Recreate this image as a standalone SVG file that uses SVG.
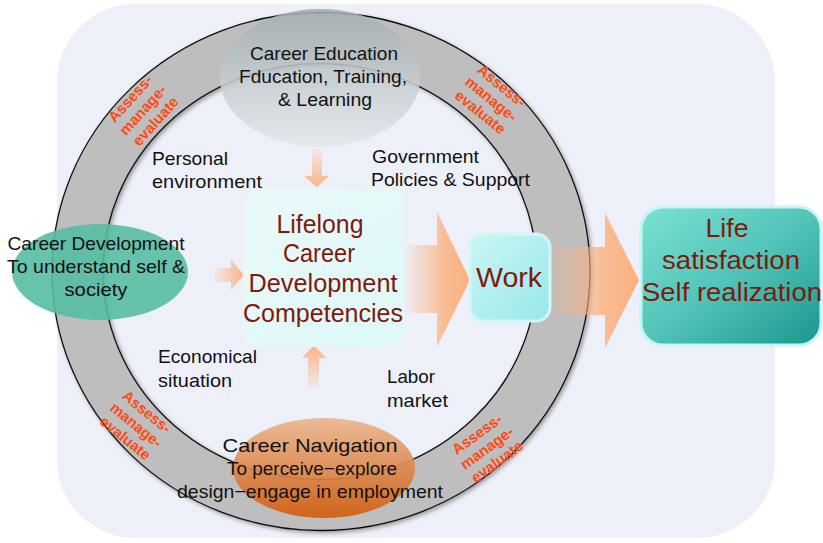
<svg xmlns="http://www.w3.org/2000/svg" width="823" height="543" viewBox="0 0 823 543">
<defs>
<style>
text{font-family:"Liberation Sans",Arial,sans-serif;}
.lbl{font-size:19px;fill:#111;}
.node{font-size:19px;fill:#111;text-anchor:middle;}
.big{fill:#7E1A0C;text-anchor:middle;}
.ame{font-size:15px;font-weight:bold;fill:#FF4A14;text-anchor:middle;}
</style>
<linearGradient id="gEdu" x1="0" y1="0" x2="0" y2="1">
<stop offset="0" stop-color="#A3ADB0"/>
<stop offset="1" stop-color="#E4E8EB"/>
</linearGradient>
<linearGradient id="gNav" x1="0" y1="0" x2="0" y2="1">
<stop offset="0" stop-color="#EAB68F"/>
<stop offset="1" stop-color="#D25C0C"/>
</linearGradient>
<linearGradient id="gBox" x1="0" y1="0" x2="1" y2="1">
<stop offset="0" stop-color="#EAF9F9"/>
<stop offset="1" stop-color="#DDF8F8"/>
</linearGradient>
<linearGradient id="gWork" x1="0" y1="0" x2="1" y2="1">
<stop offset="0" stop-color="#CBF5F5"/>
<stop offset="1" stop-color="#98E8E8"/>
</linearGradient>
<linearGradient id="gLife" x1="0" y1="0" x2="1" y2="1">
<stop offset="0" stop-color="#7AE2D4"/>
<stop offset="0.5" stop-color="#52C4B8"/>
<stop offset="1" stop-color="#1A968E"/>
</linearGradient>
<linearGradient id="gBigArrow" x1="0" y1="0" x2="1" y2="0">
<stop offset="0" stop-color="#FBB07C" stop-opacity="0.05"/>
<stop offset="0.6" stop-color="#FBB07C" stop-opacity="0.8"/>
<stop offset="1" stop-color="#FBB07C" stop-opacity="1"/>
</linearGradient>
<linearGradient id="gDown" x1="0" y1="0" x2="0" y2="1">
<stop offset="0" stop-color="#FBB383" stop-opacity="0.1"/>
<stop offset="1" stop-color="#FBB383" stop-opacity="1"/>
</linearGradient>
<linearGradient id="gUp" x1="0" y1="1" x2="0" y2="0">
<stop offset="0" stop-color="#FBB383" stop-opacity="0.1"/>
<stop offset="1" stop-color="#FBB383" stop-opacity="1"/>
</linearGradient>
<linearGradient id="gRight" x1="0" y1="0" x2="1" y2="0">
<stop offset="0" stop-color="#FBB383" stop-opacity="0.1"/>
<stop offset="1" stop-color="#FBB383" stop-opacity="1"/>
</linearGradient>
<filter id="shadow" x="-5%" y="-5%" width="112%" height="112%">
<feGaussianBlur in="SourceAlpha" stdDeviation="2"/>
<feOffset dx="2" dy="2" result="b"/>
<feComponentTransfer><feFuncA type="linear" slope="0.35"/></feComponentTransfer>
<feMerge><feMergeNode/><feMergeNode in="SourceGraphic"/></feMerge>
</filter>
</defs>

<rect x="57" y="4" width="718" height="534" rx="78" fill="#EEF0F9"/>

<g id="ring" filter="url(#shadow)">
<path fill="#BEBEBE" fill-rule="evenodd" stroke="#111" stroke-width="1.3"
d="M52,271.5 A269,259 0 1,0 590,271.5 A269,259 0 1,0 52,271.5 Z M103,271.5 A217,208 0 1,0 537,271.5 A217,208 0 1,0 103,271.5 Z"/>
</g>

<g id="ame-labels">
<g transform="translate(143,110) rotate(-48)">
<text class="ame" y="-12">Assess-</text>
<text class="ame" y="5">manage-</text>
<text class="ame" y="22">evaluate</text>
</g>
<g transform="translate(491,99) rotate(39)">
<text class="ame" y="-12">Assess-</text>
<text class="ame" y="5">manage-</text>
<text class="ame" y="22">evaluate</text>
</g>
<g transform="translate(136,425) rotate(39)">
<text class="ame" y="-12">Assess-</text>
<text class="ame" y="5">manage-</text>
<text class="ame" y="22">evaluate</text>
</g>
<g transform="translate(487,448) rotate(-36)">
<text class="ame" y="-12">Assess-</text>
<text class="ame" y="5">manage-</text>
<text class="ame" y="22">evaluate</text>
</g>
</g>

<g id="education">
<ellipse cx="320" cy="78" rx="100" ry="69" fill="url(#gEdu)" opacity="0.88"/>
<text class="node" x="324" y="60" font-size="18" textLength="148" lengthAdjust="spacingAndGlyphs">Career Education</text>
<text class="node" x="323" y="83" font-size="18" textLength="168" lengthAdjust="spacingAndGlyphs">Fducation, Training,</text>
<text class="node" x="325" y="106" font-size="18" textLength="94" lengthAdjust="spacingAndGlyphs">&amp; Learning</text>
</g>

<g id="development">
<ellipse cx="100" cy="272" rx="88" ry="48" fill="#57BDA2" opacity="0.9"/>
<text class="node" x="96" y="250" textLength="177" lengthAdjust="spacingAndGlyphs">Career Development</text>
<text class="node" x="96" y="273" textLength="178" lengthAdjust="spacingAndGlyphs">To understand self &amp;</text>
<text class="node" x="96" y="296" font-size="18" textLength="63" lengthAdjust="spacingAndGlyphs">society</text>
</g>

<g id="navigation">
<ellipse cx="324" cy="468" rx="91" ry="50" fill="url(#gNav)" opacity="0.92"/>
<text class="node" x="310" y="452" font-size="21" textLength="175" lengthAdjust="spacingAndGlyphs">Career Navigation</text>
<text class="node" x="312" y="475" textLength="170" lengthAdjust="spacingAndGlyphs">To perceive−explore</text>
<text class="node" x="310" y="498" textLength="266" lengthAdjust="spacingAndGlyphs">design−engage in employment</text>
</g>

<g id="context-labels">
<text class="lbl" x="152" y="165" textLength="76" lengthAdjust="spacingAndGlyphs">Personal</text>
<text class="lbl" x="152" y="188" textLength="110" lengthAdjust="spacingAndGlyphs">environment</text>
<text class="lbl" x="372" y="163" textLength="107" lengthAdjust="spacingAndGlyphs">Government</text>
<text class="lbl" x="371" y="186" textLength="159" lengthAdjust="spacingAndGlyphs">Policies &amp; Support</text>
<text class="lbl" x="158" y="363" textLength="99" lengthAdjust="spacingAndGlyphs">Economical</text>
<text class="lbl" x="158" y="387" textLength="74" lengthAdjust="spacingAndGlyphs">situation</text>
<text class="lbl" x="387" y="383" textLength="48" lengthAdjust="spacingAndGlyphs">Labor</text>
<text class="lbl" x="387" y="407" textLength="61" lengthAdjust="spacingAndGlyphs">market</text>
</g>

<g id="connectors">
<path d="M312,148 H322 V176 H329 L317,187 L304,176 H312 Z" fill="url(#gDown)"/>
<path d="M214,268 H231 V260 L244,275 L231,290 V282 H214 Z" fill="url(#gRight)"/>
<path d="M308,388 V358 H302 L314,345 L326,358 H319 V388 Z" fill="url(#gUp)"/>
<path d="M405,245 H437 V212 L470,280 L437,347 V313 H405 Z" fill="url(#gBigArrow)"/>
<path d="M548,247 H605 V213 L639,280 L605,348 V315 H548 Z" fill="url(#gBigArrow)"/>
</g>

<g id="competencies">
<rect x="243" y="189" width="161" height="158" rx="17" fill="url(#gBox)"/>
<text class="big" x="320" y="233" font-size="25" textLength="87" lengthAdjust="spacingAndGlyphs">Lifelong</text>
<text class="big" x="319" y="262" font-size="25" textLength="72" lengthAdjust="spacingAndGlyphs">Career</text>
<text class="big" x="323" y="292" font-size="25" textLength="149" lengthAdjust="spacingAndGlyphs">Development</text>
<text class="big" x="323" y="322" font-size="25" textLength="160" lengthAdjust="spacingAndGlyphs">Competencies</text>
</g>

<g id="work">
<rect x="470" y="234" width="80" height="87" rx="14" fill="url(#gWork)" stroke="#CFF7F7" stroke-width="3"/>
<text class="big" x="509" y="287" font-size="28" textLength="66" lengthAdjust="spacingAndGlyphs">Work</text>
</g>

<g id="life">
<rect x="641" y="207" width="180" height="138" rx="22" fill="url(#gLife)" stroke="#C6F6F4" stroke-width="3"/>
<text class="big" x="727" y="237" font-size="26" textLength="43" lengthAdjust="spacingAndGlyphs">Life</text>
<text class="big" x="731" y="269" font-size="26" textLength="138" lengthAdjust="spacingAndGlyphs">satisfaction</text>
<text class="big" x="732" y="301" font-size="26" textLength="180" lengthAdjust="spacingAndGlyphs">Self realization</text>
</g>
</svg>
